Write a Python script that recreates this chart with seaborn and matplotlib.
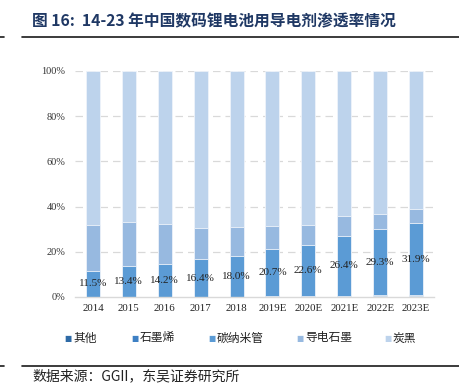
import numpy as np
import pandas as pd
import matplotlib
matplotlib.use("Agg")
import matplotlib.pyplot as plt
import seaborn as sns
from matplotlib.lines import Line2D

# data (penetration, %)
years = ["2014", "2015", "2016", "2017", "2018", "2019E", "2020E", "2021E", "2022E", "2023E"]
other = [0.2, 0.2, 0.2, 0.2, 0.2, 0.2, 0.2, 0.2, 0.3, 0.3]
graphene = [0.0, 0.0, 0.0, 0.0, 0.0, 0.2, 0.3, 0.4, 0.4, 0.5]
cnt = [11.5, 13.4, 14.2, 16.4, 18.0, 20.7, 22.6, 26.4, 29.3, 31.9]
graphite = [20.0, 19.6, 17.8, 14.0, 12.9, 10.3, 8.8, 8.8, 6.7, 6.2]
series_names = ["其他", "石墨烯", "碳纳米管", "导电石墨", "炭黑"]
colors = ["#2e6aa6", "#3e80c4", "#5b9bd5", "#97b9e0", "#bdd3ec"]

sns.set_style("white")
plt.rcParams["font.family"] = ["Noto Sans CJK SC", "DejaVu Sans"]

df = pd.DataFrame({"year": years, "其他": other, "石墨烯": graphene,
                   "碳纳米管": cnt, "导电石墨": graphite})
df["炭黑"] = 100 - df[["其他", "石墨烯", "碳纳米管", "导电石墨"]].sum(axis=1)
cum = df[series_names].cumsum(axis=1)

fig = plt.figure(figsize=(4.59, 3.84), dpi=100)
ax = fig.add_axes([75 / 459, 87 / 384, 359 / 459, 226 / 384])

# overplot cumulative layers, tallest first
for name, c in zip(series_names[::-1], colors[::-1]):
    sns.barplot(x=df["year"], y=cum[name], color=c, width=0.39, ax=ax,
                edgecolor="#eef3fa", linewidth=0.6, saturation=1)

# labels centred in the CNT segment
base = cum["石墨烯"]
for i, v in enumerate(cnt):
    ax.text(i, base[i] + v / 2, f"{v:.1f}%", ha="center", va="center",
            fontsize=8, family="Liberation Serif", color="#222222")

ax.set_xlim(-0.5, 9.5)
ax.set_ylim(0, 100)
ax.set_yticks([0, 20, 40, 60, 80, 100])
ax.set_yticklabels([f"{t}%" for t in [0, 20, 40, 60, 80, 100]],
                   family="Liberation Serif", fontsize=7.4, color="#333333")
ax.set_xticklabels(years, family="Liberation Serif", fontsize=7.8, color="#222222")
ax.tick_params(axis="x", length=0, pad=5)
ax.tick_params(axis="y", length=0, pad=7)
ax.set_xlabel("")
ax.set_ylabel("")
for y in [20, 40, 60, 80, 100]:
    ax.axhline(y, color="#d9d9d9", lw=0.9, ls=(0, (6, 4)), zorder=0)
for s in ["top", "right", "left"]:
    ax.spines[s].set_visible(False)
ax.spines["bottom"].set_color("#d9d9d9")
ax.spines["bottom"].set_linewidth(1.0)

# legend
leg_x = [68, 135, 212, 300, 388]
for x, name, c in zip(leg_x, series_names, colors):
    fig.text(x / 459, 1 - 338 / 384, "■", color=c, fontsize=5.5, va="center", ha="center",
             family="DejaVu Sans")
    fig.text((x + 5) / 459, 1 - 338 / 384, name, fontsize=8.5, va="center", ha="left",
             color="#222222")

# title and frame lines
fig.text(32 / 459, 1 - 21 / 384, "图 16:  14-23 年中国数码锂电池用导电剂渗透率情况",
         fontsize=11.3, fontweight="bold", color="#1f3864", va="center", ha="left")
fig.add_artist(Line2D([22 / 459, 1], [1 - 37 / 384] * 2, color="#1a1a1a", lw=1.2))
fig.add_artist(Line2D([0, 4 / 459], [1 - 37 / 384] * 2, color="#1a1a1a", lw=1.2))
fig.add_artist(Line2D([22 / 459, 1], [1 - 366 / 384] * 2, color="#1a1a1a", lw=1.2))
fig.add_artist(Line2D([0, 4 / 459], [1 - 366 / 384] * 2, color="#1a1a1a", lw=1.2))
fig.text(32 / 459, 1 - 376 / 384, "数据来源：GGII，东吴证券研究所",
         fontsize=10, color="#222222", va="center", ha="left")

fig.savefig("out.png", dpi=100)
